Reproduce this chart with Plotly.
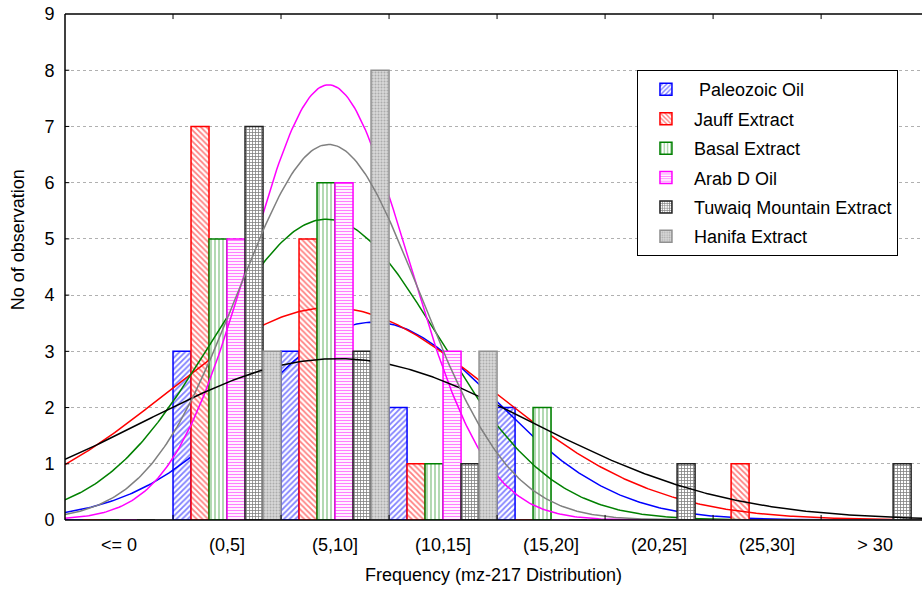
import numpy as np
import plotly.graph_objects as go

# ---- data ----
categories = ["<= 0", "(0,5]", "(5,10]", "(10,15]", "(15,20]", "(20,25]", "(25,30]", "> 30"]
bin_centers = [-2.5, 2.5, 7.5, 12.5, 17.5, 22.5, 27.5, 32.5]
bin_edges = [0, 5, 10, 15, 20, 25, 30]

series_names = ["\u00a0Paleozoic Oil", "Jauff Extract", "Basal Extract",
                "Arab D Oil", "Tuwaiq Mountain Extract", "Hanifa Extract"]
paleozoic = [0, 3, 3, 2, 2, 0, 0, 0]
jauff = [0, 7, 5, 1, 0, 0, 1, 0]
basal = [0, 5, 6, 1, 2, 0, 0, 0]
arabd = [0, 5, 6, 3, 0, 0, 0, 0]
tuwaiq = [0, 7, 3, 1, 0, 1, 0, 1]
hanifa = [0, 3, 8, 3, 0, 0, 0, 0]
series_values = [paleozoic, jauff, basal, arabd, tuwaiq, hanifa]

# fitted normal curves (estimated): mean, std dev, peak height
fit_mean = [9.3, 7.3, 7.1, 7.2, 7.6, 7.2]
fit_sd = [5.6, 7.5, 5.2, 3.65, 9.0, 4.2]
fit_peak = [3.52, 3.78, 5.35, 7.74, 2.87, 6.68]

y_ticks = [0, 1, 2, 3, 4, 5, 6, 7, 8, 9]

# ---- styles ----
line_colors = ["#0000ff", "#ff0000", "#008000", "#ff00ff", "#000000", "#808080"]
outline_colors = ["#0000ff", "#ff0000", "#008000", "#ff00ff", "#222222", "#909090"]
bg_colors = ["white", "white", "white", "white", "white", "#d8d8d8"]
fg_colors = ["#0000ff", "#ff0000", "#008000", "#ff00ff", "#000000", "#808080"]
shapes_p = ["/", "\\", "|", "-", "+", "."]
sizes = [4, 4, 4, 3, 3, 3]
solids = [0.45, 0.45, 0.3, 0.4, 0.45, 0.35]

FONT = "Liberation Sans, Arial, sans-serif"
CLEAR = "rgba(0,0,0,0)"

fig = go.Figure()
n = len(series_values)
bw = 5.0 / n
xs = np.linspace(-5, 35, 401)
for k in range(n):
    fig.add_trace(go.Bar(
        x=bin_centers, y=series_values[k], name=series_names[k],
        width=bw, offset=-2.5 + k * bw,
        marker=dict(color=bg_colors[k],
                    line=dict(color=outline_colors[k], width=1.5),
                    pattern=dict(shape=shapes_p[k], fgcolor=fg_colors[k], bgcolor=bg_colors[k],
                                 size=sizes[k], solidity=solids[k], fillmode="overlay")),
        legendgroup=str(k), zorder=2 * k, hoverinfo="skip",
    ))
    ys = fit_peak[k] * np.exp(-((xs - fit_mean[k]) ** 2) / (2 * fit_sd[k] ** 2))
    fig.add_trace(go.Scatter(
        x=xs, y=ys, mode="lines", line=dict(color=line_colors[k], width=1.5),
        showlegend=False, legendgroup=str(k), zorder=2 * k + 1, hoverinfo="skip",
    ))

# frame lines and inside ticks (drawn above traces)
frame = []
ln = dict(color="black", width=1.5)
frame.append(dict(type="line", xref="paper", yref="paper", x0=0, x1=0, y0=0, y1=1, line=ln, layer="above"))
frame.append(dict(type="line", xref="paper", yref="paper", x0=0, x1=1, y0=0, y1=0, line=ln, layer="above"))
frame.append(dict(type="line", xref="paper", yref="paper", x0=0, x1=1, y0=1, y1=1, line=ln, layer="above"))
tk = dict(color="black", width=1)
for e in bin_edges:
    frame.append(dict(type="line", xref="x", yref="paper", x0=e, x1=e, y0=0, y1=0.01, line=tk, layer="above"))
    frame.append(dict(type="line", xref="x", yref="paper", x0=e, x1=e, y0=1, y1=0.99, line=tk, layer="above"))
for t in y_ticks[1:-1]:
    frame.append(dict(type="line", xref="paper", yref="y", x0=0, x1=0.005, y0=t, y1=t, line=tk, layer="above"))

fig.update_layout(
    width=922, height=590,
    margin=dict(l=65, r=0, t=14, b=70),
    paper_bgcolor="white", plot_bgcolor="white",
    barmode="overlay",
    shapes=frame,
    font=dict(family=FONT, size=18, color="black"),
    legend=dict(x=0.6674, y=0.889, xanchor="left", yanchor="top",
                bordercolor="black", borderwidth=1, bgcolor="white",
                font=dict(family=FONT, size=18, color="black"),
                itemwidth=46,
                traceorder="grouped", tracegroupgap=3),
    xaxis=dict(
        range=[-5, 34.67], tickmode="array", tickvals=bin_centers, ticktext=categories,
        ticks="outside", ticklen=8, tickcolor=CLEAR, showgrid=False, zeroline=False, showline=False,
        tickfont=dict(family=FONT, size=18, color="black"),
        title=dict(text="Frequency (mz-217 Distribution)", standoff=14,
                   font=dict(family=FONT, size=18, color="black")),
    ),
    yaxis=dict(
        range=[0, 9], tickmode="array", tickvals=y_ticks,
        ticks="outside", ticklen=6, tickcolor=CLEAR,
        showgrid=True, gridcolor="#b0b0b0", griddash="dot", gridwidth=1,
        zeroline=False, showline=False,
        tickfont=dict(family=FONT, size=18, color="black"),
    ),
    annotations=[dict(text="No of observation", textangle=-90, xref="paper", yref="paper",
                      x=-0.0548, y=0.553, xanchor="center", yanchor="middle", showarrow=False,
                      font=dict(family=FONT, size=18, color="black"))],
)

fig.write_html("out.html")
